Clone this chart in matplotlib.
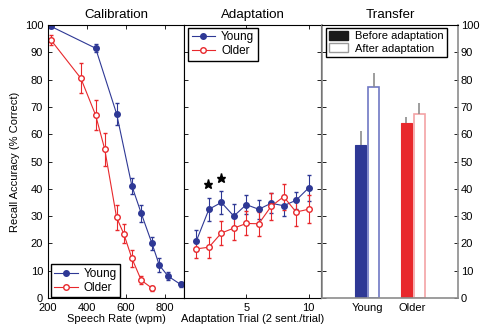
import numpy as np
import matplotlib
matplotlib.use('Agg')
import matplotlib.pyplot as plt
from matplotlib.patches import Patch
from matplotlib.lines import Line2D

plt.rcParams['font.family'] = ['Liberation Sans', 'DejaVu Sans']
plt.rcParams['font.size'] = 8

# calibration: recall vs speech rate
cal_rate_young = [215, 445, 553, 632, 680, 735, 773, 818, 882]
cal_acc_young = [99.5, 91.5, 67.5, 41, 31, 20, 12, 8, 5]
cal_err_young = [0.5, 1.5, 4, 3, 3, 2.5, 2.5, 1.5, 1]
cal_rate_older = [215, 369, 445, 492, 553, 590, 632, 680, 737]
cal_acc_older = [94.5, 80.5, 67, 54.5, 29.5, 23.5, 14.5, 6.5, 3.5]
cal_err_older = [2, 5.5, 5.5, 6, 4.5, 3.5, 3, 1.5, 1]

# adaptation: recall per trial
trials = [1, 2, 3, 4, 5, 6, 7, 8, 9, 10]
ad_young = [21, 32.5, 35, 30, 34.2, 32.5, 34.7, 33.8, 35.8, 40.3]
ad_young_err = [3.8, 4.2, 4.2, 4.4, 3.4, 3.4, 3.7, 3.9, 3.2, 4.6]
ad_older = [18, 18.6, 23.8, 25.6, 27.3, 27.2, 33.6, 37.1, 31.5, 32.5]
ad_older_err = [3.4, 3.8, 4.4, 4.2, 4.4, 4.4, 5.0, 4.8, 5.0, 5.2]
star_x = [1.95, 2.97]
star_y = [41.7, 44]

# transfer
groups = ['Young', 'Older']
before = [56, 64.2]
before_err = [5, 2]
after = [77.4, 67.3]
after_err = [5, 4]

blue = '#2e3895'
red = '#e8282c'

fig = plt.figure(figsize=(4.84, 3.30), dpi=100)
W, H = 484, 330
ax1 = fig.add_axes([48/W, 32/H, 136/W, 273/H])
ax2 = fig.add_axes([184/W, 32/H, 137/W, 273/H])
ax3 = fig.add_axes([322/W, 32/H, 136/W, 273/H])

for ax in (ax1, ax2, ax3):
    ax.tick_params(direction='in', length=3, width=0.6, top=True, right=True)
    ax.set_ylim(0, 100)
    ax.set_yticks(range(0, 101, 10))
    for s in ax.spines.values():
        s.set_linewidth(0.8)

# Calibration
ax1.errorbar(cal_rate_young, cal_acc_young, yerr=cal_err_young, color=blue, lw=0.8,
             marker='o', ms=4, mfc=blue, mec=blue, capsize=1.2, elinewidth=0.8)
ax1.errorbar(cal_rate_older, cal_acc_older, yerr=cal_err_older, color=red, lw=0.8,
             marker='o', ms=4, mfc='white', mec=red, capsize=1.2, elinewidth=0.8)
ax1.set_xlim(200, 900)
ax1.set_xticks([200, 400, 600, 800])
ax1.tick_params(right=False)
ax1.set_xlabel('Speech Rate (wpm)', labelpad=1)
ax1.set_ylabel('Recall Accuracy (% Correct)', labelpad=3)
ax1.set_title('Calibration', pad=5)
leg_h = [Line2D([], [], color=blue, lw=0.8, marker='o', ms=4, mfc=blue, mec=blue),
         Line2D([], [], color=red, lw=0.8, marker='o', ms=4, mfc='white', mec=red)]
ax1.legend(leg_h, ['Young', 'Older'], loc='lower left', bbox_to_anchor=(0.02, 0.003),
           borderaxespad=0, fancybox=False, edgecolor='black', framealpha=1,
           handlelength=2.0, labelspacing=0.15, borderpad=0.3, handletextpad=0.5,
           fontsize=8.5)

# Adaptation
ax2.errorbar(trials, ad_young, yerr=ad_young_err, color=blue, lw=0.8,
             marker='o', ms=4, mfc=blue, mec=blue, capsize=1.2, elinewidth=0.8)
ax2.errorbar(trials, ad_older, yerr=ad_older_err, color=red, lw=0.8,
             marker='o', ms=4, mfc='white', mec=red, capsize=1.2, elinewidth=0.8)
ax2.plot(star_x, star_y, ls='none', marker='*', ms=6.5, color='black')
ax2.set_xlim(0, 11)
ax2.set_xticks([5, 10])
ax2.set_yticklabels([])
ax2.set_xlabel('Adaptation Trial (2 sent./trial)', labelpad=1)
ax2.set_title('Adaptation', pad=5)
ax2.legend(leg_h, ['Young', 'Older'], loc='upper left', bbox_to_anchor=(0.03, 0.99),
           borderaxespad=0, fancybox=False, edgecolor='black', framealpha=1,
           handlelength=2.0, labelspacing=0.15, borderpad=0.3, handletextpad=0.5,
           fontsize=8.5)

# Transfer
x = np.arange(1, len(groups) + 1)
bw = 0.245
off = 0.145
ax3.bar(x - off, before, width=bw, color=[blue, red], edgecolor=[blue, red], lw=0.8)
ax3.bar(x + off, after, width=bw, color='white', edgecolor=['#7078c4', '#f4a3a6'], lw=1.2)
ax3.errorbar(x - off, before, yerr=[np.zeros(2), before_err], fmt='none',
             ecolor='#8c8c8c', elinewidth=1.2, capsize=0)
ax3.errorbar(x + off, after, yerr=[np.zeros(2), after_err], fmt='none',
             ecolor='#8c8c8c', elinewidth=1.2, capsize=0)
ax3.set_xlim(0, 3)
ax3.set_xticks(x)
ax3.set_xticklabels(groups)
ax3.tick_params(axis='x', length=0, top=False)
ax3.tick_params(axis='y', labelleft=False, labelright=True, pad=2)
ax3.yaxis.set_label_position('right')
ax3.set_ylabel('Recall Accuracy (% Correct)', labelpad=4)
ax3.set_title('Transfer', pad=5)
for side in ('left', 'right', 'bottom'):
    ax3.spines[side].set_color('#8c8c8c')
    ax3.spines[side].set_linewidth(1.2)
ax3.legend([Patch(facecolor='#1a1a1a', edgecolor='#1a1a1a'),
            Patch(facecolor='white', edgecolor='#9a9a9a')],
           ['Before adaptation', 'After adaptation'], loc='upper left',
           bbox_to_anchor=(0.027, 0.99), borderaxespad=0, fancybox=False,
           edgecolor='black', framealpha=1, handlelength=1.7, handleheight=0.8,
           labelspacing=0.2, borderpad=0.3, handletextpad=0.6)

fig.savefig('out.png', dpi=100)
